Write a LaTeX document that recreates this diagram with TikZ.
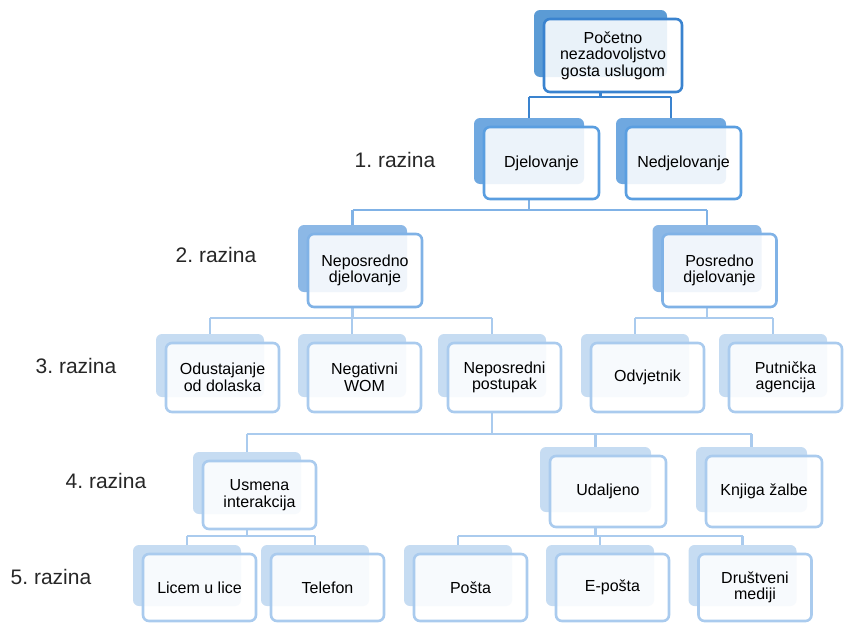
\documentclass[tikz,border=0pt]{standalone}
\usepackage{fontspec}
\setmainfont{Liberation Sans}
\usetikzlibrary{backgrounds}
\frenchspacing
\definecolor{bk0}{HTML}{5B9BD5}
\definecolor{fr0}{HTML}{3A83CF}
\definecolor{bk1}{HTML}{6FA8E0}
\definecolor{fr1}{HTML}{5A9EE0}
\definecolor{bk2}{HTML}{8CB8E6}
\definecolor{fr2}{HTML}{80B2E6}
\definecolor{bk3}{HTML}{C6DCF2}
\definecolor{fr3}{HTML}{AACBEE}
\newcommand\nodefont{\fontsize{16}{16.5}\selectfont}
\newcommand\labfont{\fontsize{21}{24}\selectfont}
\tikzset{
  frontbox/.style={draw, rounded corners=6pt, line width=2.6pt, fill=white,
    fill opacity=0.87, text opacity=1, align=center, font=\nodefont, inner sep=0pt},
  backbox/.style={rounded corners=6pt, inner sep=0pt},
  levellabel/.style={font=\labfont, text=black!85, inner sep=0pt},
  c0/.style={draw=fr0, line width=2.6pt},
  c1/.style={draw=fr2, line width=2.6pt},
  c3/.style={draw=fr3, line width=2.6pt},
}
% name, cx, cy, w, h, level, text
\newcommand\mkbox[7]{%
  \pgfmathsetmacro\bw{#4-5}%
  \pgfmathsetmacro\bh{#5-6}%
  \node[backbox, fill=bk#6, minimum width=\bw pt, minimum height=\bh pt] (#1b) at (#2-12.5,#3-12) {};
  \node[frontbox, draw=fr#6, minimum width=#4pt, minimum height=#5pt] (#1) at (#2,#3) {#7};
}
\begin{document}
\begin{tikzpicture}[x=1pt,y=-1pt]
\useasboundingbox (0,0) rectangle (844,624);
% nodes
\mkbox{top}{613}{55.5}{138}{73}{0}{Početno\\nezadovoljstvo\\gosta uslugom}
\mkbox{dj}{541.5}{163}{115}{72}{1}{Djelovanje}
\mkbox{nd}{683.5}{163}{115}{72}{1}{Nedjelovanje}
\mkbox{np}{365}{270.5}{114}{73}{2}{Neposredno\\djelovanje}
\mkbox{po}{719.5}{270.5}{114}{73}{2}{Posredno\\djelovanje}
\mkbox{od}{222.5}{377.5}{113}{69}{3}{Odustajanje\\od dolaska}
\mkbox{ne}{364.5}{377.5}{113}{69}{3}{Negativni\\WOM}
\mkbox{nps}{504.5}{377.5}{113}{69}{3}{Neposredni\\postupak}
\mkbox{ov}{647.5}{377.5}{113}{69}{3}{Odvjetnik}
\mkbox{pa}{785.5}{377.5}{113}{69}{3}{Putnička\\agencija}
\mkbox{us}{259.5}{495}{113}{68}{3}{Usmena\\interakcija}
\mkbox{ud}{608}{491.5}{116}{71}{3}{Udaljeno}
\mkbox{kz}{764}{491.5}{116}{71}{3}{Knjiga žalbe}
\mkbox{li}{199.5}{587.5}{113}{67}{3}{Licem u lice}
\mkbox{te}{327.5}{587.5}{113}{67}{3}{Telefon}
\mkbox{ps}{470.5}{587.5}{113}{67}{3}{Pošta}
\mkbox{ep}{612.5}{587.5}{113}{67}{3}{E-pošta}
\mkbox{dm}{755}{587.5}{113}{67}{3}{Društveni\\mediji}
% level labels
\node[levellabel] (l1) at (395,160) {1. razina};
\node[levellabel] (l2) at (216,255) {2. razina};
\node[levellabel] (l3) at (76,366) {3. razina};
\node[levellabel] (l4) at (106,481) {4. razina};
\node[levellabel] (l5) at (51,577) {5. razina};
% connectors
\begin{scope}[on background layer]
  \coordinate (y0) at (0,97);
  \coordinate (y1) at (0,210);
  \coordinate (y2) at (0,318);
  \coordinate (y3) at (0,434);
  \coordinate (y4l) at (0,536);
  \coordinate (y4r) at (0,536);
  % level 0 -> 1
  \draw[c0] (topb |- top.south) -- (topb |- y0);
  \draw[c0] (djb |- y0) -- (ndb |- y0);
  \draw[c0] (djb |- y0) -- (djb.north);
  \draw[c0] (ndb |- y0) -- (ndb.north);
  % level 1 -> 2
  \draw[c1] (djb |- dj.south) -- (djb |- y1);
  \draw[c1] (npb |- y1) -- (pob |- y1);
  \draw[c1] (npb |- y1) -- (npb.north);
  \draw[c1] (pob |- y1) -- (pob.north);
  % level 2 -> 3
  \draw[c3] (npb |- np.south) -- (npb |- y2);
  \draw[c3] (odb |- y2) -- (npsb |- y2);
  \foreach \c in {od,ne,nps} \draw[c3] (\c b |- y2) -- (\c b.north);
  \draw[c3] (pob |- po.south) -- (pob |- y2);
  \draw[c3] (ovb |- y2) -- (pab |- y2);
  \foreach \c in {ov,pa} \draw[c3] (\c b |- y2) -- (\c b.north);
  % level 3 -> 4
  \draw[c3] (npsb |- nps.south) -- (npsb |- y3);
  \draw[c3] (usb |- y3) -- (kzb |- y3);
  \foreach \c in {us,ud,kz} \draw[c3] (\c b |- y3) -- (\c b.north);
  % level 4 -> 5
  \draw[c3] (usb |- us.south) -- (usb |- y4l);
  \draw[c3] (lib |- y4l) -- (teb |- y4l);
  \foreach \c in {li,te} \draw[c3] (\c b |- y4l) -- (\c b.north);
  \draw[c3] (udb |- ud.south) -- (udb |- y4r);
  \draw[c3] (psb |- y4r) -- (dmb |- y4r);
  \foreach \c in {ps,ep,dm} \draw[c3] (\c b |- y4r) -- (\c b.north);
\end{scope}
\end{tikzpicture}
\end{document}
